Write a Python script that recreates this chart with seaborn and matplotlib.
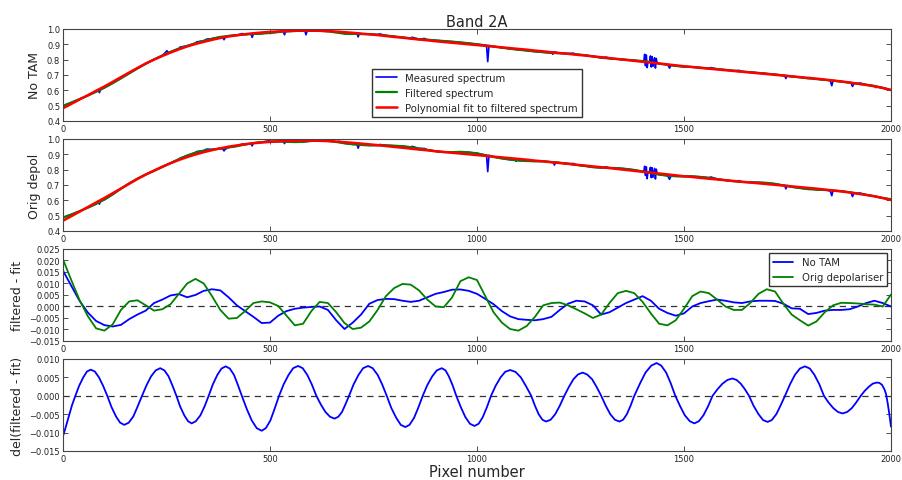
import numpy as np
import seaborn as sns
from matplotlib import pyplot as plt

# pixel grid used for spectra and residuals (every 20 pixels)
pix = np.arange(0, 2001, 20)

# polynomial fit, No TAM
fit_notam = [0.483, 0.511, 0.540, 0.568, 0.597, 0.625, 0.655, 0.686, 0.716, 0.746,
             0.775, 0.800, 0.824, 0.846, 0.867, 0.886, 0.902, 0.916, 0.929, 0.941,
             0.951, 0.959, 0.966, 0.972, 0.977, 0.981, 0.984, 0.986, 0.988, 0.989,
             0.989, 0.988, 0.986, 0.983, 0.979, 0.975, 0.970, 0.965, 0.960, 0.954,
             0.948, 0.943, 0.937, 0.931, 0.926, 0.920, 0.915, 0.910, 0.905, 0.900,
             0.895, 0.890, 0.885, 0.880, 0.875, 0.870, 0.865, 0.859, 0.854, 0.848,
             0.843, 0.838, 0.832, 0.827, 0.821, 0.816, 0.810, 0.804, 0.798, 0.792,
             0.786, 0.781, 0.775, 0.769, 0.763, 0.757, 0.752, 0.746, 0.741, 0.736,
             0.731, 0.726, 0.721, 0.716, 0.711, 0.706, 0.701, 0.696, 0.691, 0.686,
             0.681, 0.676, 0.670, 0.664, 0.658, 0.651, 0.643, 0.635, 0.626, 0.615,
             0.602]

# polynomial fit, original depolariser
fit_orig = [0.467, 0.496, 0.526, 0.556, 0.586, 0.615, 0.646, 0.677, 0.708, 0.739,
            0.768, 0.794, 0.819, 0.842, 0.863, 0.882, 0.899, 0.914, 0.927, 0.939,
            0.950, 0.958, 0.966, 0.972, 0.977, 0.981, 0.984, 0.986, 0.988, 0.989,
            0.989, 0.988, 0.986, 0.983, 0.979, 0.975, 0.970, 0.965, 0.960, 0.954,
            0.948, 0.943, 0.937, 0.931, 0.926, 0.920, 0.915, 0.910, 0.905, 0.900,
            0.895, 0.890, 0.885, 0.880, 0.875, 0.870, 0.865, 0.859, 0.854, 0.848,
            0.843, 0.838, 0.832, 0.827, 0.821, 0.816, 0.810, 0.804, 0.798, 0.792,
            0.786, 0.781, 0.775, 0.769, 0.763, 0.757, 0.752, 0.746, 0.741, 0.736,
            0.731, 0.726, 0.721, 0.716, 0.711, 0.706, 0.701, 0.696, 0.691, 0.686,
            0.681, 0.676, 0.670, 0.664, 0.658, 0.651, 0.643, 0.635, 0.626, 0.615,
            0.602]

# filtered - fit
res_notam = [0.0156, 0.0090, 0.0025, -0.0026, -0.0063, -0.0081, -0.0087, -0.0080, -0.0055, -0.0035,
             -0.0018, 0.0015, 0.0030, 0.0048, 0.0054, 0.0040, 0.0050, 0.0068, 0.0075, 0.0070,
             0.0040, 0.0005, -0.0020, -0.0045, -0.0072, -0.0070, -0.0040, -0.0020, -0.0010, -0.0005,
             -0.0002, 0.0000, -0.0015, -0.0060, -0.0098, -0.0070, -0.0035, 0.0012, 0.0028, 0.0033,
             0.0032, 0.0025, 0.0020, 0.0025, 0.0040, 0.0055, 0.0063, 0.0073, 0.0074, 0.0068,
             0.0055, 0.0033, 0.0010, -0.0020, -0.0043, -0.0055, -0.0058, -0.0060, -0.0055, -0.0045,
             -0.0015, 0.0012, 0.0025, 0.0022, 0.0005, -0.0035, -0.0025, -0.0005, 0.0015, 0.0030,
             0.0045, 0.0025, -0.0010, -0.0028, -0.0040, -0.0030, 0.0000, 0.0015, 0.0023, 0.0030,
             0.0025, 0.0018, 0.0015, 0.0022, 0.0025, 0.0025, 0.0024, 0.0012, -0.0008, -0.0010,
             -0.0033, -0.0028, -0.0018, -0.0015, -0.0015, -0.0012, 0.0000, 0.0015, 0.0025, 0.0015,
             0.0000]
res_orig = [0.0205, 0.0115, 0.0028, -0.0042, -0.0095, -0.0105, -0.0078, -0.0015, 0.0022, 0.0027,
            0.0005, -0.0018, -0.0012, 0.0010, 0.0055, 0.0100, 0.0120, 0.0100, 0.0045, -0.0015,
            -0.0053, -0.0050, -0.0020, 0.0015, 0.0022, 0.0018, 0.0002, -0.0040, -0.0082, -0.0075,
            -0.0020, 0.0020, 0.0015, -0.0025, -0.0072, -0.0098, -0.0092, -0.0065, -0.0015, 0.0045,
            0.0080, 0.0098, 0.0095, 0.0070, 0.0030, 0.0000, -0.0003, 0.0040, 0.0110, 0.0127,
            0.0115, 0.0045, -0.0025, -0.0070, -0.0098, -0.0105, -0.0085, -0.0045, 0.0005, 0.0015,
            0.0017, 0.0005, -0.0012, -0.0030, -0.0050, -0.0035, 0.0015, 0.0058, 0.0068, 0.0058,
            0.0020, -0.0030, -0.0075, -0.0082, -0.0060, -0.0010, 0.0045, 0.0065, 0.0058, 0.0030,
            0.0000, -0.0015, -0.0015, 0.0015, 0.0055, 0.0075, 0.0065, 0.0012, -0.0035, -0.0060,
            -0.0083, -0.0065, -0.0025, 0.0005, 0.0016, 0.0015, 0.0013, 0.0010, 0.0008, 0.0000,
            0.0052]

# measured spectrum: absorption lines, spikes and jitter on top of the filtered curve
lines_notam_x = [85, 88, 91, 247, 251, 255, 283, 323, 347, 386, 389, 392, 433, 454, 457, 461,
                 497, 532, 535, 538, 545, 565, 575, 584, 587, 590, 605, 615, 645, 667,
                 710, 713, 716, 765, 843, 873,
                 1023, 1026, 1029, 1180, 1183, 1186, 1233, 1313,
                 1403, 1405, 1407, 1409, 1411, 1413, 1417, 1419, 1421, 1423, 1425, 1427,
                 1429, 1431, 1433, 1435,
                 1461, 1465, 1469, 1565, 1633, 1743, 1746, 1749, 1803, 1853, 1857, 1861,
                 1903, 1907, 1911, 1925, 1961, 1963, 1966]
lines_notam_y = [0.599, 0.585, 0.604, 0.845, 0.858, 0.846, 0.882, 0.916, 0.934, 0.943, 0.930, 0.945,
                 0.970, 0.968, 0.945, 0.967,
                 0.980, 0.985, 0.962, 0.985, 0.996, 0.998, 0.997, 0.990, 0.962, 0.989, 0.998, 0.996,
                 0.990, 0.983,
                 0.973, 0.948, 0.972, 0.968, 0.946, 0.938,
                 0.893, 0.787, 0.892, 0.852, 0.835, 0.851, 0.842, 0.816,
                 0.789, 0.835, 0.760, 0.830, 0.748, 0.786, 0.787, 0.824, 0.752, 0.820, 0.757, 0.780,
                 0.812, 0.745, 0.808, 0.778,
                 0.766, 0.745, 0.764, 0.748, 0.730, 0.696, 0.677, 0.694, 0.683, 0.664, 0.630, 0.663,
                 0.650, 0.625, 0.646, 0.648, 0.625, 0.618, 0.622]
lines_orig_x = [85, 88, 91, 283, 323, 347, 386, 389, 392, 433, 454, 457, 461, 497, 532, 535, 538,
                555, 575, 605, 625, 645, 667, 710, 713, 716, 765, 843, 873,
                1023, 1026, 1029, 1091, 1094, 1097, 1184, 1187, 1190, 1233, 1313,
                1403, 1405, 1407, 1409, 1411, 1413, 1417, 1419, 1421, 1423, 1425, 1427,
                1429, 1431, 1433, 1435,
                1461, 1465, 1469, 1565, 1633, 1743, 1746, 1749, 1803, 1853, 1857, 1861,
                1903, 1907, 1911, 1925]
lines_orig_y = [0.592, 0.575, 0.597, 0.875, 0.918, 0.934, 0.935, 0.922, 0.933, 0.967,
                0.968, 0.955, 0.974, 0.988, 0.987, 0.970, 0.985,
                0.992, 0.996, 0.997, 0.995, 0.992, 0.985, 0.965, 0.940, 0.964, 0.964, 0.952, 0.938,
                0.896, 0.787, 0.894, 0.865, 0.855, 0.864, 0.849, 0.830, 0.848, 0.840, 0.818,
                0.789, 0.822, 0.762, 0.818, 0.741, 0.786, 0.787, 0.815, 0.748, 0.812, 0.750, 0.780,
                0.808, 0.739, 0.803, 0.778,
                0.758, 0.737, 0.760, 0.752, 0.728, 0.698, 0.675, 0.697, 0.678, 0.662, 0.630, 0.662,
                0.652, 0.624, 0.650, 0.648]

# del(filtered - fit)
del_x = [0, 8, 15, 22, 30, 39, 49, 58, 67, 77, 87, 97, 107, 117, 128, 138, 148, 159, 170, 180,
         191, 202, 213, 224, 235, 245, 255, 264, 274, 283, 293, 302, 311, 321, 332, 342, 352,
         362, 373, 383, 393, 403, 413, 422, 432, 444, 456, 468, 480, 490, 501, 511, 522, 533,
         545, 556, 568, 579, 590, 601, 612, 623, 634, 645, 656, 665, 674, 682, 691, 702, 714,
         725, 737, 748, 760, 771, 782, 793, 805, 816, 827, 837, 848, 858, 869, 880, 892, 903,
         915, 924, 932, 941, 950, 961, 972, 983, 994, 1004, 1014, 1024, 1034, 1045, 1057, 1068,
         1080, 1093, 1106, 1118, 1131, 1140, 1149, 1158, 1167, 1178, 1189, 1200, 1211, 1222,
         1233, 1244, 1255, 1266, 1278, 1289, 1300, 1311, 1322, 1333, 1344, 1353, 1362, 1371,
         1380, 1394, 1407, 1421, 1434, 1445, 1457, 1468, 1479, 1491, 1502, 1514, 1525, 1536,
         1547, 1558, 1569, 1581, 1593, 1605, 1617, 1627, 1637, 1647, 1657, 1668, 1680, 1691,
         1702, 1712, 1723, 1733, 1744, 1756, 1768, 1780, 1792, 1804, 1815, 1827, 1838, 1849,
         1861, 1872, 1883, 1894, 1905, 1916, 1927, 1937, 1947, 1956, 1966, 1972, 1978, 1984,
         1988, 1992, 1996, 2000]
del_y = [-0.0110, -0.0080, -0.0052, -0.0025, 0.0000, 0.0027, 0.0050, 0.0066, 0.0071, 0.0066,
         0.0050, 0.0027, 0.0000, -0.0030, -0.0056, -0.0073, -0.0079, -0.0073, -0.0056, -0.0030,
         0.0000, 0.0029, 0.0053, 0.0069, 0.0075, 0.0069, 0.0053, 0.0029, 0.0000, -0.0029,
         -0.0053, -0.0069, -0.0075, -0.0069, -0.0053, -0.0029, 0.0000,
         0.0031, 0.0057, 0.0074, 0.0080, 0.0074, 0.0057, 0.0031, 0.0000, -0.0036, -0.0067,
         -0.0088, -0.0095, -0.0088, -0.0067, -0.0036, 0.0000, 0.0031,
         0.0057, 0.0075, 0.0081, 0.0075, 0.0057, 0.0031, 0.0000, -0.0024, -0.0044, -0.0057,
         -0.0062, -0.0057, -0.0044, -0.0024, 0.0000, 0.0031, 0.0057,
         0.0075, 0.0081, 0.0075, 0.0057, 0.0031, 0.0000, -0.0033, -0.0060, -0.0079, -0.0085,
         -0.0079, -0.0060, -0.0033, 0.0000, 0.0029, 0.0053, 0.0069,
         0.0075, 0.0069, 0.0053, 0.0029, 0.0000, -0.0031, -0.0058, -0.0076, -0.0082, -0.0076,
         -0.0058, -0.0031, 0.0000, 0.0027, 0.0050, 0.0065,
         0.0070, 0.0065, 0.0050, 0.0027, 0.0000, -0.0027, -0.0050, -0.0065, -0.0070, -0.0065,
         -0.0050, -0.0027, 0.0000, 0.0024,
         0.0045, 0.0058, 0.0063, 0.0058, 0.0045, 0.0024, 0.0000, -0.0027, -0.0050, -0.0065,
         -0.0070, -0.0065, -0.0050, -0.0027,
         0.0000, 0.0034, 0.0063, 0.0082, 0.0089, 0.0082, 0.0063, 0.0034, 0.0000, -0.0029,
         -0.0053, -0.0069, -0.0075, -0.0069,
         -0.0053, -0.0029, 0.0000, 0.0018, 0.0033, 0.0043, 0.0047, 0.0043, 0.0033, 0.0018,
         0.0000, -0.0027, -0.0050, -0.0066,
         -0.0071, -0.0066, -0.0050, -0.0027, 0.0000, 0.0031, 0.0057, 0.0074, 0.0080, 0.0074,
         0.0057, 0.0031, 0.0000, -0.0018,
         -0.0034, -0.0044, -0.0048, -0.0044, -0.0034, -0.0018, 0.0000, 0.0014, 0.0025, 0.0033,
         0.0036, 0.0035, 0.0030, 0.0018,
         0.0005, -0.0020, -0.0050, -0.0084]

spec_ticks = [0.4, 0.5, 0.6, 0.7, 0.8, 0.9, 1.0]
res_ticks = [-0.015, -0.010, -0.005, 0.000, 0.005, 0.010, 0.015, 0.020, 0.025]
del_ticks = [-0.015, -0.010, -0.005, 0.000, 0.005, 0.010]

sns.set_style("ticks")
plt.rcParams['font.family'] = ['DejaVu Sans']

fig = plt.figure(figsize=(9.02, 4.81), dpi=100)
left, width, height = 0.0698, 0.918, 0.1913
bottoms = [0.7464, 0.5177, 0.2890, 0.0603]
axes = [fig.add_axes([left, b, width, height]) for b in bottoms]


def measured(fit, res, lx, ly):
    filt = np.array(fit) + np.array(res)
    mx = np.concatenate([pix, lx])
    my = np.concatenate([filt, ly])
    order = np.argsort(mx, kind="stable")
    return filt, mx[order], my[order]


def style(ax, yticks, ylabel):
    ax.set_xlim(0, 2000)
    ax.set_ylim(yticks[0], yticks[-1])
    ax.set_xticks([0, 500, 1000, 1500, 2000])
    ax.set_yticks(yticks)
    ax.set_ylabel(ylabel, fontsize=9)
    ax.set_xlabel("")
    ax.tick_params(direction="in", top=True, right=True, length=3.5, width=0.6,
                   labelsize=6, pad=2, colors="#333333", labelcolor="#222222")
    for s in ax.spines.values():
        s.set_color("#444444")
        s.set_linewidth(0.8)


spectra = [(fit_notam, res_notam, lines_notam_x, lines_notam_y, "No TAM"),
           (fit_orig, res_orig, lines_orig_x, lines_orig_y, "Orig depol")]
for i, (fit, res, lx, ly, name) in enumerate(spectra):
    ax = axes[i]
    filt, mx, my = measured(fit, res, lx, ly)
    sns.lineplot(x=mx, y=my, ax=ax, color="b", lw=1.2, estimator=None, sort=False,
                 label="Measured spectrum" if i == 0 else None)
    sns.lineplot(x=pix, y=filt, ax=ax, color="g", lw=1.6, estimator=None,
                 label="Filtered spectrum" if i == 0 else None)
    sns.lineplot(x=pix, y=fit, ax=ax, color="r", lw=1.8, estimator=None,
                 label="Polynomial fit to filtered spectrum" if i == 0 else None)
    style(ax, spec_ticks, name)
    if i == 0:
        ax.legend(loc="lower center", fontsize=7.3, frameon=True, fancybox=False,
                  edgecolor="#333333", framealpha=1, borderaxespad=0.4)
    elif ax.get_legend() is not None:
        ax.get_legend().remove()

ax = axes[2]
ax.axhline(0, color="#333333", ls="--", lw=0.9, dashes=(5, 4))
sns.lineplot(x=pix, y=res_notam, ax=ax, color="b", lw=1.3, estimator=None, label="No TAM")
sns.lineplot(x=pix, y=res_orig, ax=ax, color="g", lw=1.3, estimator=None, label="Orig depolariser")
style(ax, res_ticks, "filtered - fit")
ax.legend(loc="upper right", fontsize=7.3, frameon=True, fancybox=False,
          edgecolor="#333333", framealpha=1, borderaxespad=0.4)

ax = axes[3]
ax.axhline(0, color="#333333", ls="--", lw=0.9, dashes=(5, 4))
sns.lineplot(x=del_x, y=del_y, ax=ax, color="b", lw=1.3, estimator=None, legend=False)
style(ax, del_ticks, "del(filtered - fit)")
ax.set_xlabel("Pixel number", fontsize=10.5, labelpad=1)

axes[0].set_title("Band 2A", fontsize=10.5, pad=2)

plt.savefig("out.png", dpi=100)
